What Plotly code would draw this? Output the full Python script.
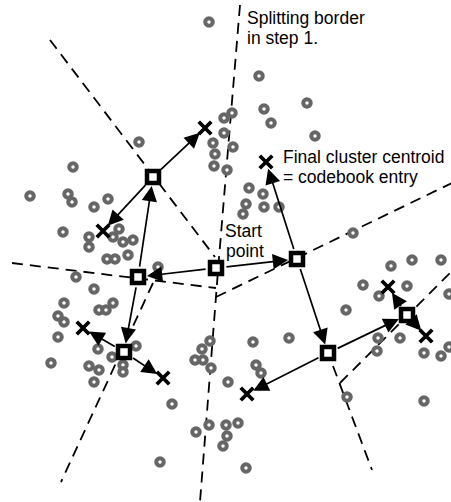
import plotly.graph_objects as go

# ---- data (diagram units: x to the right, y downwards) ----
points_x = [209, 259, 139, 73, 30, 68, 72, 94, 108, 63, 89, 89, 119, 113, 123, 133,
            107, 115, 128, 158, 76, 94, 64, 113, 99, 106, 58, 64, 58, 98, 112, 136,
            51, 89, 99, 123, 123, 94, 172, 160, 232, 224, 224, 213, 233, 215, 214, 227,
            264, 271, 307, 315, 249, 263, 246, 264, 279, 243, 353, 210, 202, 195, 203,
            211, 253, 256, 261, 228, 289, 209, 196, 226, 238, 227, 223, 246, 391, 412,
            441, 363, 379, 407, 449, 346, 378, 400, 377, 424, 441, 449, 347, 424]
points_y = [22, 76, 142, 167, 196, 194, 202, 207, 199, 232, 237, 247, 229, 237, 242, 240,
            259, 259, 255, 267, 277, 289, 303, 303, 310, 310, 316, 322, 337, 349, 357, 346,
            363, 366, 370, 365, 372, 382, 404, 462, 113, 118, 133, 143, 147, 154, 166, 170,
            109, 123, 103, 136, 188, 194, 204, 207, 207, 214, 233, 341, 349, 360, 360,
            368, 342, 365, 373, 382, 338, 425, 432, 425, 423, 436, 446, 468, 266, 260,
            260, 285, 296, 286, 294, 310, 338, 338, 351, 353, 356, 347, 397, 401]

squares_x = [153, 216, 297, 138, 124, 328, 407]
squares_y = [177, 268, 259, 277, 352, 353, 315]

crosses_x = [205, 103, 266, 83, 163, 388, 426, 247]
crosses_y = [128, 231, 162, 328, 378, 287, 336, 394]

# arrows: source square -> target (kind 's' square / 'c' cross, index)
arrow_src = [1, 1, 3, 3, 0, 0, 4, 4, 2, 2, 5, 5, 6, 6]
arrow_dst_kind = ['s', 's', 's', 's', 'c', 'c', 'c', 'c', 'c', 's', 's', 'c', 'c', 'c']
arrow_dst_idx = [3, 2, 0, 4, 0, 1, 3, 4, 2, 5, 6, 7, 5, 6]

# splitting borders (polylines)
borders_x = [[50, 215], [240, 219, 200], [12, 216], [216, 452], [153, 61], [333, 372], [340, 451]]
borders_y = [[40, 257], [5, 258, 502], [263, 288], [297, 183], [283, 482], [366, 470], [383, 272]]

labels = ["Splitting border", "in step 1.", "Final cluster centroid", "= codebook entry", "Start", "point"]
labels_x = [246, 246, 282, 282, 224, 225]
labels_baseline = [24, 44, 163, 183, 237, 257]

FONT = "Liberation Sans, Arial, Helvetica, sans-serif"
FS = 17.5

fig = go.Figure()

for bx, by in zip(borders_x, borders_y):
    fig.add_trace(go.Scatter(x=bx, y=by, mode="lines",
                             line=dict(color="black", width=1.8, dash="11px,7px"),
                             hoverinfo="skip", showlegend=False))

fig.add_trace(go.Scatter(x=points_x, y=points_y, mode="markers",
                         marker=dict(symbol="circle", size=7.5, color="white",
                                     line=dict(color="#666666", width=4)),
                         hoverinfo="skip", showlegend=False))

fig.add_trace(go.Scatter(x=squares_x, y=squares_y, mode="markers",
                         marker=dict(symbol="square", size=12, color="white",
                                     line=dict(color="black", width=4.5)),
                         hoverinfo="skip", showlegend=False))

fig.add_trace(go.Scatter(x=crosses_x, y=crosses_y, mode="markers",
                         marker=dict(symbol="x-thin", size=12.5, color="black",
                                     line=dict(color="black", width=3.8)),
                         hoverinfo="skip", showlegend=False))

annotations = []
for s, k, d in zip(arrow_src, arrow_dst_kind, arrow_dst_idx):
    if k == 's':
        tx, ty, so = squares_x[d], squares_y[d], 9
    else:
        tx, ty, so = crosses_x[d], crosses_y[d], 7
    annotations.append(dict(x=tx, y=ty, ax=squares_x[s], ay=squares_y[s],
                            xref="x", yref="y", axref="x", ayref="y",
                            text="", showarrow=True, arrowhead=2, arrowsize=1.8,
                            arrowwidth=1.7, arrowcolor="black",
                            standoff=so, startstandoff=9))

for t, lx, lb in zip(labels, labels_x, labels_baseline):
    annotations.append(dict(x=lx, y=lb - 0.3465 * FS, xref="x", yref="y",
                            text=t, showarrow=False, xanchor="left", yanchor="middle",
                            font=dict(family=FONT, size=FS, color="black"),
                            borderpad=0))

fig.update_layout(
    width=451, height=502,
    margin=dict(l=0, r=0, t=0, b=0),
    paper_bgcolor="white", plot_bgcolor="white",
    xaxis=dict(range=[0, 451], visible=False, fixedrange=True),
    yaxis=dict(range=[502, 0], visible=False, fixedrange=True),
    annotations=annotations,
)

fig.write_html("out.html", config={"displayModeBar": False},
               post_script="document.body.style.margin='0px';document.body.style.overflow='hidden';")
